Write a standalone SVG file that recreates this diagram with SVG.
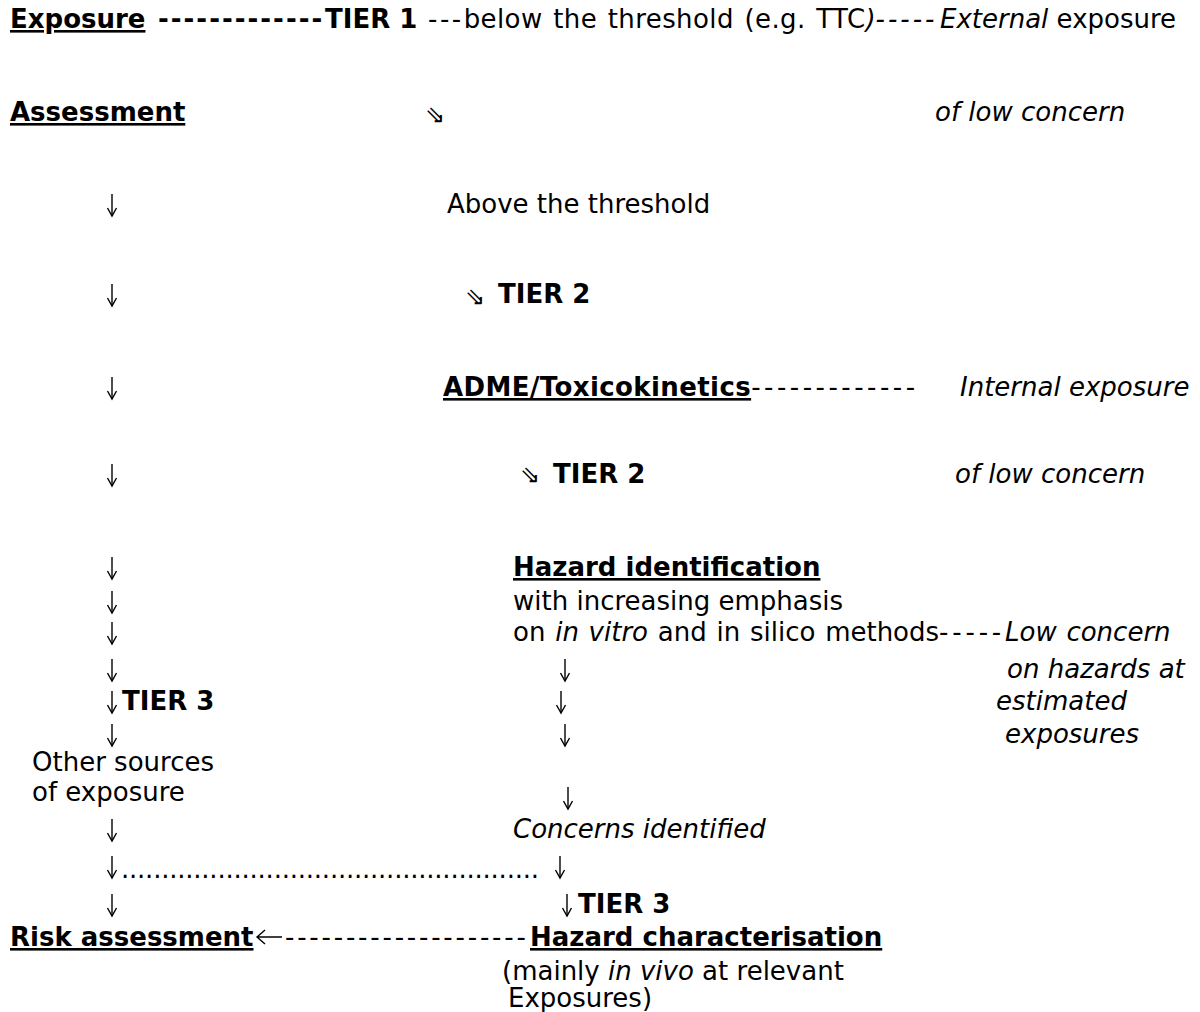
<svg xmlns="http://www.w3.org/2000/svg" width="1200" height="1012" viewBox="0 0 1200 1012">
<style>
text{font-family:"DejaVu Sans",Verdana,sans-serif;font-size:26px;fill:#000}
.b{font-weight:bold}
.i{font-style:italic}
.u{text-decoration:underline}
.dar{font-family:"DejaVu Sans",sans-serif;font-size:24px}
.arr{stroke:#000;stroke-width:1.4;fill:none}
</style>
<defs>
<g id="dn" class="arr"><line x1="0" y1="-19" x2="0" y2="3"/><polyline points="-4.5,-5 0,3 4.5,-5"/></g>
</defs>
<rect width="1200" height="1012" fill="#fff"/>
<g id="connectors">
<use href="#dn" x="112" y="213"/>
<use href="#dn" x="112" y="303"/>
<use href="#dn" x="112" y="396"/>
<use href="#dn" x="112" y="483"/>
<use href="#dn" x="112" y="576"/>
<use href="#dn" x="112" y="610"/>
<use href="#dn" x="112" y="641"/>
<use href="#dn" x="112" y="678"/>
<use href="#dn" x="112" y="710"/>
<use href="#dn" x="112" y="743"/>
<use href="#dn" x="112" y="838"/>
<use href="#dn" x="112" y="875"/>
<use href="#dn" x="112" y="913"/>
<use href="#dn" x="565" y="678"/>
<use href="#dn" x="561" y="710"/>
<use href="#dn" x="565" y="743"/>
<use href="#dn" x="568" y="806"/>
<use href="#dn" x="560" y="875"/>
<use href="#dn" x="567" y="913"/>
<text x="121" y="878" textLength="418" lengthAdjust="spacing">....................................................</text>
<path class="arr" d="M282,937 H257 M265,930 L257,937 L265,944"/>
<text x="285" y="946" style="letter-spacing:2.8px">--------------------</text>
<text class="dar" x="435" y="123" text-anchor="middle">⇘</text>
<text class="dar" x="475" y="305" text-anchor="middle">⇘</text>
<text class="dar" x="530" y="483" text-anchor="middle">⇘</text>
</g>
<g id="n-exposure-assessment">
<text x="10" y="28"><tspan class="b u">Exposure</tspan><tspan class="b" x="158" style="letter-spacing:2px">-------------</tspan><tspan class="b" x="325">TIER 1</tspan><tspan x="428" style="letter-spacing:2.5px">---</tspan><tspan style="letter-spacing:0.4px;word-spacing:2px">below the threshold (e.g. TTC</tspan><tspan class="i">)</tspan><tspan class="i" style="letter-spacing:3px">-----</tspan><tspan class="i" x="940">External</tspan> exposure</text>
<text class="b u" x="10" y="121">Assessment</text>
</g>
<g id="n-low-concern-1"><text class="i" x="935" y="121">of low concern</text></g>
<g id="n-above"><text x="447" y="213">Above the threshold</text></g>
<g id="n-tier2a"><text class="b" x="498" y="303">TIER 2</text></g>
<g id="n-adme"><text x="443" y="396"><tspan class="b u" style="letter-spacing:0.4px">ADME/Toxicokinetics</tspan><tspan style="letter-spacing:3.5px">-------------</tspan><tspan class="i" x="960">Internal exposure</tspan></text></g>
<g id="n-tier2b"><text class="b" x="553" y="483">TIER 2</text></g>
<g id="n-low-concern-2"><text class="i" x="955" y="483">of low concern</text></g>
<g id="n-hazard-id">
<text class="b u" x="513" y="576">Hazard identification</text>
<text x="513" y="610">with increasing emphasis</text>
<text x="513" y="641" style="word-spacing:1.5px">on <tspan class="i">in vitro</tspan> and in silico methods<tspan style="letter-spacing:3.8px">-----</tspan><tspan class="i" x="1005">Low concern</tspan></text>
</g>
<g id="n-low-concern-hazards">
<text class="i" x="1007" y="678">on hazards at</text>
<text class="i" x="996" y="710">estimated</text>
<text class="i" x="1005" y="743">exposures</text>
</g>
<g id="n-tier3-left"><text class="b" x="122" y="710">TIER 3</text></g>
<g id="n-other-sources">
<text x="32" y="771">Other sources</text>
<text x="32" y="801">of exposure</text>
</g>
<g id="n-concerns"><text class="i" x="513" y="838">Concerns identified</text></g>
<g id="n-tier3-right"><text class="b" x="578" y="913">TIER 3</text></g>
<g id="n-risk"><text class="b u" x="10" y="946">Risk assessment</text></g>
<g id="n-hazard-char">
<text class="b u" x="530" y="946">Hazard characterisation</text>
<text x="502" y="980">(mainly <tspan class="i">in vivo</tspan> at relevant</text>
<text x="508" y="1007">Exposures)</text>
</g>
</svg>
